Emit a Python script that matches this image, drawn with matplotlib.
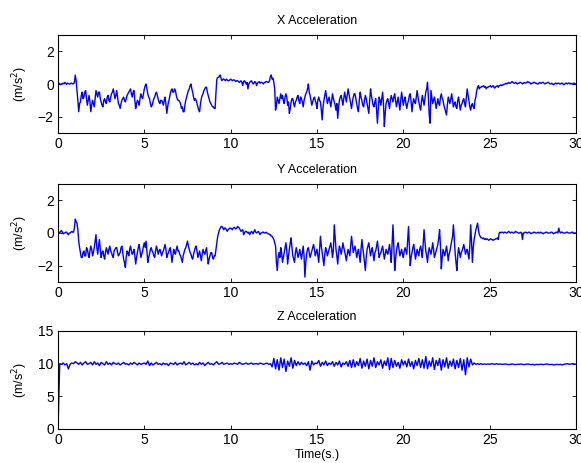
import numpy as np
import matplotlib
matplotlib.use("Agg")
import matplotlib.pyplot as plt

plt.rcParams['font.family'] = ['Liberation Sans', 'DejaVu Sans']

# X acceleration, sampled every 0.05 s (one row = 1 s)
acc_x = [
    0.0, 0.05, 0.02, -0.05, 0.0, 0.03, 0.05, 0.0, 0.1, 0.05, -0.02, 0.05, 0.03, 0.0, 0.0, 0.05, 0.05, 0.0, 0.02, 0.1,
    0.55, 0.2, -0.4, -1.0, -1.7, -1.2, -1.1, -0.7, -0.5, -0.9, -0.8, -0.5, -0.4, -0.9, -1.3, -1.0, -0.7, -1.1, -1.7, -1.3,
    -1.0, -1.2, -1.4, -0.9, -0.4, -0.6, -0.8, -0.5, -0.5, -0.9, -1.1, -1.3, -1.4, -1.0, -0.9, -1.1, -1.2, -0.8, -0.7, -1.0,
    -1.1, -0.8, -0.6, -0.5, -0.3, -0.6, -0.9, -0.7, -0.4, -0.8, -1.2, -1.3, -1.5, -1.2, -1.0, -0.9, -0.8, -1.0, -1.1, -0.9,
    -0.7, -0.6, -0.5, -0.4, -0.3, -0.6, -0.8, -0.5, -0.4, -1.0, -1.5, -1.2, -1.0, -1.1, -1.3, -0.9, -0.6, -0.8, -0.9, -0.6,
    -0.3, -0.1, 0.0, -0.3, -0.6, -0.8, -0.9, -1.2, -1.4, -1.3, -1.1, -0.9, -0.8, -0.6, -0.5, -0.7, -0.9, -1.1, -1.2, -1.0,
    -1.0, -1.1, -1.3, -1.0, -0.8, -1.2, -1.8, -1.4, -1.1, -0.9, -0.6, -0.4, -0.3, -0.5, -0.5, -0.3, -0.4, -0.7, -0.9, -1.0,
    -1.0, -1.1, -1.2, -1.5, -1.4, -1.7, -1.7, -1.3, -1.0, -0.8, -0.6, -0.4, -0.3, -0.1, 0.0, -0.3, -0.5, -0.8, -1.0, -0.9,
    -1.0, -1.2, -1.4, -1.6, -1.7, -1.2, -0.9, -0.7, -0.6, -0.4, -0.3, -0.2, -0.2, -0.5, -0.7, -0.9, -1.1, -1.2, -1.3, -1.4,
    -1.4, -1.5, -1.5, -0.5, 0.3, 0.4, 0.4, 0.5, 0.55, 0.3, 0.2, 0.3, 0.3, 0.25, 0.2, 0.3, 0.25, 0.2, 0.2, 0.25,
    0.3, 0.25, 0.2, 0.25, 0.25, 0.2, 0.15, 0.2, 0.2, 0.15, 0.1, 0.15, 0.2, 0.1, -0.1, 0.15, 0.2, 0.1, 0.0, 0.1,
    -0.3, 0.0, 0.1, 0.15, 0.2, 0.1, 0.0, 0.05, 0.15, 0.1, -0.1, 0.05, 0.1, 0.15, 0.05, 0.1, 0.1, 0.05, 0.0, 0.1,
    0.1, 0.15, 0.15, 0.1, 0.1, 0.2, 0.45, 0.55, 0.3, 0.35, 0.1, -0.3, -1.6, -1.3, -0.8, -1.0, -1.2, -0.9, -0.6, -0.9,
    -0.7, -1.0, -1.2, -0.8, -0.6, -0.8, -1.3, -1.1, -1.8, -1.5, -1.1, -0.9, -0.9, -1.2, -1.4, -1.1, -1.0, -0.8, -0.7, -1.0,
    -1.2, -0.8, -0.9, -1.1, -1.4, -1.0, -0.8, -0.6, -0.5, -0.3, 0.0, -0.5, -0.7, -1.0, -1.3, -1.1, -0.9, -0.8, -1.0, -1.2,
    -1.5, -1.0, -0.8, -1.0, -1.1, -1.6, -2.2, -1.4, -1.0, -0.7, -0.4, -0.8, -1.2, -1.0, -0.8, -1.1, -1.4, -1.0, -0.6, -0.9,
    -1.1, -1.3, -1.6, -1.2, -2.1, -1.4, -1.0, -0.8, -0.7, -1.0, -1.3, -0.9, -0.5, -0.8, -1.1, -0.7, -0.3, -0.6, -0.9, -1.2,
    -1.5, -1.1, -0.8, -0.6, -0.6, -0.9, -1.2, -1.5, -1.7, -1.0, -0.5, -0.8, -1.0, -1.3, -1.4, -1.0, -0.7, -0.9, -1.2, -1.5,
    -1.8, -1.0, -0.3, -0.7, -1.0, -1.3, -1.4, -1.1, -0.9, -1.6, -2.4, -1.5, -0.8, -1.0, -1.3, -0.9, -0.5, -1.2, -2.6, -1.8,
    -1.2, -1.0, -0.9, -1.2, -1.5, -1.0, -0.7, -0.9, -1.1, -0.8, -0.6, -1.0, -1.4, -1.1, -0.8, -1.2, -1.6, -1.0, -0.5, -0.9,
    -1.3, -1.0, -0.8, -1.2, -1.5, -1.2, -1.0, -0.7, -0.6, -1.1, -1.7, -1.2, -0.9, -1.1, -1.2, -0.8, -0.4, -0.8, -1.1, -1.4,
    -1.6, -1.1, -0.7, -1.0, -1.3, -0.9, -0.5, -0.3, 0.1, -0.8, -1.9, -2.4, -0.4, -0.8, -1.2, -1.0, -0.8, -1.1, -1.5, -1.2,
    -0.9, -1.2, -1.3, -0.8, -0.6, -0.9, -1.0, -1.3, -1.5, -1.7, -1.9, -1.3, -0.8, -1.0, -1.2, -0.9, -0.6, -1.0, -1.4, -1.2,
    -1.1, -1.4, -1.5, -1.0, -0.8, -1.2, -1.6, -1.3, -1.2, -1.0, -0.9, -1.2, -1.4, -0.8, -0.3, -0.7, -1.0, -1.4, -1.6, -1.3,
    -1.2, -1.4, -1.5, -1.0, -0.8, -0.4, -0.2, -0.1, -0.3, -0.2, -0.2, -0.15, -0.15, -0.1, -0.2, -0.15, -0.3, -0.2, -0.2, -0.15,
    -0.15, -0.1, -0.2, -0.15, -0.1, -0.2, -0.25, -0.15, -0.15, -0.1, -0.2, -0.1, -0.1, -0.05, -0.1, -0.05, -0.05, 0.0, 0.0, 0.05,
    0.0, 0.05, 0.1, 0.05, 0.05, 0.1, 0.15, 0.1, 0.05, 0.05, 0.1, 0.05, 0.0, 0.05, 0.05, 0.1, 0.1, 0.05, 0.0, 0.05,
    0.1, 0.05, 0.05, 0.1, 0.15, 0.1, 0.1, 0.05, 0.0, 0.05, 0.05, 0.1, 0.1, 0.05, 0.05, 0.0, 0.0, 0.05, 0.1, 0.05,
    0.05, 0.1, 0.1, 0.05, 0.0, 0.05, 0.05, 0.1, 0.1, 0.05, 0.0, 0.0, 0.05, 0.0, -0.05, 0.0, 0.05, 0.05, 0.0, 0.05,
    0.05, 0.0, 0.0, 0.05, 0.05, 0.0, -0.05, 0.0, 0.05, 0.05, 0.0, 0.05, 0.05, 0.0, 0.05, 0.0, 0.0, 0.05, 0.05, 0.0,
    0.0,
]

# Y acceleration, sampled every 0.05 s
acc_y = [
    0.0, 0.05, 0.0, 0.1, 0.15, 0.05, -0.05, 0.0, 0.0, 0.05, 0.05, -0.05, -0.1, 0.0, 0.0, 0.05, 0.1, 0.05, 0.05, 0.3,
    0.85, 0.7, 0.6, 0.2, -0.5, -0.9, -1.2, -1.5, -1.5, -1.2, -1.1, -1.4, -1.4, -0.9, -1.0, -1.3, -1.5, -1.1, -0.8, -1.0,
    -1.4, -1.2, -0.9, -0.5, -0.1, -0.9, -1.3, -0.8, -0.4, -1.0, -1.5, -1.2, -1.1, -1.4, -1.6, -1.2, -0.9, -1.1, -1.3, -1.0,
    -0.8, -1.1, -1.2, -1.4, -1.5, -1.1, -1.0, -0.9, -0.9, -1.2, -1.4, -1.3, -1.2, -0.9, -0.8, -1.2, -1.6, -1.8, -2.1, -1.5,
    -1.1, -1.2, -1.4, -1.0, -0.8, -1.1, -1.3, -1.2, -1.0, -1.4, -1.9, -1.5, -1.2, -0.9, -0.7, -1.1, -1.5, -1.3, -1.1, -0.8,
    -0.6, -0.9, -0.5, -1.1, -1.8, -1.5, -1.3, -1.0, -0.9, -1.1, -1.2, -1.4, -1.5, -1.1, -0.8, -1.0, -1.3, -1.1, -1.0, -1.2,
    -1.4, -1.2, -1.1, -0.9, -0.7, -1.0, -1.5, -1.3, -1.2, -1.0, -0.9, -1.3, -1.8, -1.4, -1.0, -1.2, -1.3, -1.0, -0.8, -1.1,
    -1.1, -1.3, -1.4, -1.6, -1.8, -1.4, -1.2, -1.0, -0.9, -0.7, -0.5, -0.8, -1.0, -1.2, -1.3, -1.5, -1.6, -1.3, -1.1, -0.9,
    -0.8, -1.1, -1.5, -1.3, -1.1, -1.4, -1.7, -1.3, -1.0, -1.2, -1.3, -1.1, -0.9, -1.4, -1.9, -1.6, -1.4, -1.2, -1.2, -1.5,
    -1.6, -1.4, -1.4, -1.0, -0.6, -0.2, 0.0, 0.2, 0.3, 0.4, 0.4, 0.3, 0.2, 0.3, 0.3, 0.2, 0.1, 0.2, 0.25, 0.3,
    0.3, 0.25, 0.2, 0.3, 0.35, 0.3, 0.25, 0.3, 0.4, 0.35, 0.3, 0.2, 0.1, 0.15, 0.2, -0.1, 0.0, 0.1, 0.1, 0.05,
    0.0, 0.05, -0.1, 0.0, 0.1, 0.05, -0.05, 0.1, 0.2, 0.05, 0.0, 0.05, 0.1, 0.0, -0.1, 0.0, 0.0, 0.05, 0.05, 0.0,
    0.0, 0.05, 0.0, -0.05, -0.05, -0.1, -0.1, -0.2, -0.2, -0.3, -0.4, -0.6, -0.8, -1.8, -2.3, -1.5, -1.2, -1.5, -0.9, -1.2,
    -1.8, -1.5, -1.2, -0.9, -0.6, -1.1, -1.9, -1.4, -1.0, -0.6, -0.3, -0.9, -1.4, -1.6, -1.8, -1.2, -0.9, -1.2, -1.5, -1.3,
    -1.0, -1.3, -1.6, -1.2, -0.8, -1.4, -2.7, -1.8, -1.3, -1.0, -0.9, -1.2, -1.5, -1.3, -1.1, -0.9, -0.7, -1.0, -1.4, -1.2,
    -1.0, -1.4, -1.8, -1.0, -0.2, -0.8, -1.2, -1.6, -2.0, -1.3, -0.9, -1.1, -1.4, -1.2, -1.0, -0.8, -0.6, -1.0, -1.5, -1.0,
    0.5, -0.3, -1.0, -1.4, -1.9, -1.2, -0.8, -1.0, -1.3, -1.0, -0.6, -0.9, -1.1, -1.4, -1.7, -1.3, -1.0, -1.2, -1.4, -0.8,
    -0.2, -0.7, -1.2, -1.0, -0.8, -1.1, -1.5, -1.2, -1.0, -1.4, -1.8, -1.0, -0.4, -0.9, -1.3, -1.8, -2.3, -1.5, -1.0, -0.8,
    -0.6, -1.0, -1.4, -1.1, -0.9, -1.3, -1.7, -1.2, -1.1, -0.8, -0.5, -1.0, -1.5, -1.3, -1.2, -1.0, -0.8, -1.2, -1.6, -1.3,
    -1.0, -1.2, -1.3, -1.0, -0.7, -1.2, -1.8, -0.6, 0.5, -0.8, -2.3, -1.6, -1.1, -0.8, -0.6, -1.0, -1.4, -1.2, -1.0, -1.3,
    -1.5, -1.1, -0.9, -1.1, -1.3, -0.5, 0.4, -0.8, -2.0, -1.5, -1.2, -0.9, -0.7, -1.1, -1.6, -1.3, -1.0, -1.2, -1.4, -1.0,
    -0.8, -1.1, -1.5, -0.6, 0.2, -0.5, -1.1, -1.4, -1.8, -1.2, -0.9, -1.1, -1.3, -1.0, -0.6, -1.0, -1.5, -1.3, -1.1, -0.9,
    -0.7, -0.3, 0.2, -0.8, -2.2, -1.5, -1.0, -1.2, -1.4, -1.1, -0.8, -1.2, -1.7, -1.3, -1.1, -0.8, -0.5, -0.2, 0.5, -0.4,
    -1.2, -1.8, -2.3, -1.4, -0.9, -1.2, -1.5, -1.2, -1.1, -0.9, -0.7, -1.0, -1.3, -1.1, -1.0, -1.3, -1.6, -0.8, 0.5, -0.5,
    -1.8, -0.9, -0.4, -0.1, 0.2, 0.4, 0.6, 0.2, -0.1, -0.2, -0.3, -0.3, -0.35, -0.3, -0.4, -0.35, -0.4, -0.35, -0.4, -0.45,
    -0.4, -0.35, -0.4, -0.4, -0.45, -0.4, -0.4, -0.35, -0.35, -0.3, -0.4, 0.0, 0.05, 0.0, 0.05, 0.05, 0.0, 0.05, 0.05, 0.0,
    0.0, 0.05, 0.1, 0.05, 0.0, 0.05, 0.05, 0.0, 0.0, 0.05, 0.1, 0.05, 0.05, 0.0, 0.0, 0.0, 0.05, 0.0, -0.4, 0.0,
    0.0, 0.05, 0.05, 0.0, 0.0, 0.05, 0.05, 0.0, -0.05, 0.0, 0.0, 0.05, 0.05, 0.0, 0.0, 0.0, 0.05, 0.0, 0.0, 0.05,
    0.0, 0.0, -0.05, 0.0, 0.0, 0.05, 0.05, 0.0, 0.0, 0.0, 0.0, 0.05, 0.05, 0.0, -0.05, 0.0, 0.0, 0.05, 0.05, 0.0,
    0.3, 0.1, 0.0, 0.05, 0.05, 0.0, 0.0, 0.0, 0.0, 0.05, 0.05, 0.0, 0.0, 0.0, 0.0, 0.05, 0.05, 0.0, 0.0, 0.0,
    0.0,
]

# Z acceleration, sampled every 0.1 s (one row = 1 s)
acc_z = [
    0.0, 10.0, 9.9, 10.1, 9.8, 10.0, 9.2, 9.9, 10.1, 10.0,
    10.3, 10.1, 9.9, 10.2, 9.8, 10.1, 10.3, 9.9, 10.0, 10.2,
    9.8, 10.3, 9.9, 10.1, 9.7, 10.2, 10.0, 9.8, 10.3, 9.9,
    10.1, 9.8, 10.2, 10.0, 9.9, 10.1, 9.8, 10.0, 10.2, 9.9,
    10.0, 9.8, 10.1, 9.9, 10.2, 10.0, 9.8, 10.1, 9.9, 10.0,
    10.1, 9.9, 10.4, 9.7, 10.1, 9.8, 10.0, 10.2, 9.9, 10.0,
    9.8, 10.1, 9.9, 10.0, 9.7, 10.1, 10.0, 9.9, 10.2, 9.8,
    10.0, 10.1, 9.9, 10.3, 9.8, 10.0, 10.2, 9.9, 10.1, 9.8,
    10.0, 9.8, 10.2, 9.9, 10.1, 9.7, 10.0, 10.2, 9.9, 10.0,
    9.8, 10.1, 10.3, 9.9, 10.0, 10.2, 9.9, 10.0, 10.1, 9.9,
    10.0, 9.9, 10.1, 10.0, 9.9, 10.2, 10.0, 9.9, 10.0, 10.1,
    9.9, 10.0, 10.1, 9.9, 10.0, 10.0, 9.9, 10.1, 10.0, 9.9,
    10.0, 10.1, 9.9, 10.0, 9.5, 10.8, 9.2, 10.6, 9.0, 10.9,
    9.4, 10.7, 8.8, 10.4, 9.6, 10.9, 9.3, 10.5, 9.7, 10.3,
    9.8, 10.2, 9.9, 10.1, 9.7, 10.3, 9.0, 10.4, 9.8, 10.1,
    10.0, 10.5, 9.6, 10.2, 9.8, 10.4, 9.7, 10.1, 9.9, 10.3,
    9.6, 10.2, 9.8, 10.4, 9.5, 10.1, 9.9, 10.3, 9.6, 10.5,
    9.4, 10.6, 9.5, 10.3, 9.7, 10.8, 9.3, 10.4, 9.6, 10.7,
    9.2, 10.5, 9.6, 10.9, 9.4, 10.3, 9.8, 10.6, 9.3, 10.4,
    9.7, 10.9, 9.1, 10.8, 9.4, 10.5, 9.6, 10.2, 9.3, 10.6,
    9.8, 10.4, 9.5, 10.7, 9.6, 10.3, 9.2, 10.5, 9.7, 10.8,
    9.4, 10.6, 9.3, 11.1, 9.2, 10.4, 9.6, 10.9, 9.1, 10.5,
    9.7, 10.8, 9.0, 10.6, 9.5, 10.9, 9.3, 10.4, 9.6, 10.7,
    9.2, 10.5, 9.4, 10.8, 9.0, 10.6, 8.3, 10.9, 9.5, 10.7,
    9.8, 10.1, 9.9, 10.0, 9.9, 10.0, 9.9, 9.95, 9.9, 9.95,
    9.9, 10.0, 9.95, 9.9, 10.0, 9.9, 9.95, 9.9, 9.9, 9.95,
    9.9, 9.85, 9.9, 9.95, 9.9, 9.85, 9.9, 9.9, 9.95, 9.9,
    9.85, 9.9, 9.95, 9.9, 9.85, 9.9, 9.8, 9.9, 9.85, 9.9,
    9.9, 9.85, 9.9, 9.95, 9.9, 9.85, 9.9, 9.8, 9.85, 9.9,
    9.85, 9.9, 9.8, 9.9, 9.95, 10.0, 9.9, 9.95, 10.0, 9.95,
    9.9,
]

titles = ["X Acceleration", "Y Acceleration", "Z Acceleration"]
ylims = [(-3, 3), (-3, 3), (0, 15)]
yticks = [[-2, 0, 2], [-2, 0, 2], [0, 5, 10, 15]]
xticks = [0, 5, 10, 15, 20, 25, 30]
t_end = 30
series = [acc_x, acc_y, acc_z]

W, H = 581, 463
fig = plt.figure(figsize=(W / 100, H / 100), dpi=100)
boxes = [(35, 133), (184, 282), (331, 429)]
left, right = 58, 576

for i, (top, bot) in enumerate(boxes):
    ax = fig.add_axes([left / W, 1 - bot / H, (right - left) / W, (bot - top) / H])
    vals = series[i]
    t = np.linspace(0, t_end, len(vals))
    ax.plot(t, vals, color='#0000ff', linewidth=1.0)
    ax.set_xlim(0, t_end)
    ax.set_ylim(*ylims[i])
    ax.set_xticks(xticks)
    ax.set_yticks(yticks[i])
    ax.tick_params(direction='in', top=True, right=True, length=3,
                   labelsize=10, pad=3, width=0.6)
    for sp in ax.spines.values():
        sp.set_linewidth(0.8)
    ax.set_title(titles[i], fontsize=9, pad=8)
    ax.set_ylabel('(m/s$^2$)', fontsize=9, labelpad=6)

ax.set_xlabel('Time(s.)', fontsize=9, labelpad=1)

fig.savefig('out.png', dpi=100)
